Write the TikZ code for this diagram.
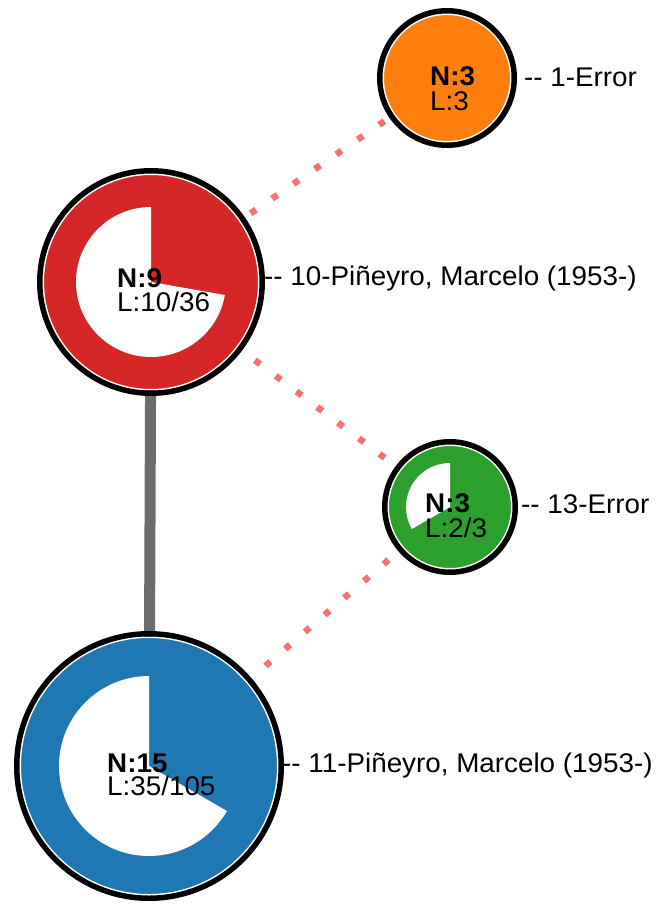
\documentclass[tikz,border=0pt]{standalone}
\usepackage{fontspec}
\setmainfont{Liberation Sans}[FakeStretch=1.03]
\usetikzlibrary{backgrounds}
\definecolor{cOrange}{HTML}{FF7F0E}
\definecolor{cRed}{HTML}{D62728}
\definecolor{cGreen}{HTML}{2CA02C}
\definecolor{cBlue}{HTML}{1F77B4}
\definecolor{cDot}{RGB}{246,114,114}
\definecolor{cGray}{RGB}{108,108,108}
\begin{document}
\begin{tikzpicture}[x=1pt,y=1pt,
  bubble/.style={circle, inner sep=0pt, outer sep=0pt, draw=white, line width=1.5pt},
  blackring/.style={draw=black, line width=5.5pt},
  hole/.style={fill=white},
  txt/.style={inner sep=0pt, anchor=base west, font=\fontsize{27}{31}\selectfont},
  btxt/.style={txt, font=\fontsize{27}{31}\selectfont\bfseries},
  dotlink/.style={draw=cDot, line width=6.5pt, dash pattern=on 6.5pt off 19.5pt},
  graylink/.style={draw=cGray, line width=11pt}]
\useasboundingbox (0,0) rectangle (663,-913);

% nodes
\node[bubble, fill=cOrange, minimum size=127.5pt] (n1) at (447,-78) {};
\draw[blackring] (n1.center) circle[radius=67.25];

\node[bubble, fill=cRed, minimum size=215.5pt] (n10) at (151,-282) {};
\draw[blackring] (n10.center) circle[radius=111.25];
\fill[hole] (n10.center) -- ++(90:75) arc[start angle=90, end angle=350, radius=75] -- cycle;

\node[bubble, fill=cGreen, minimum size=123.5pt] (n13) at (450,-507) {};
\draw[blackring] (n13.center) circle[radius=65.25];
\fill[hole] (n13.center) -- ++(90:44) arc[start angle=90, end angle=210, radius=44] -- cycle;

\node[bubble, fill=cBlue, minimum size=257.5pt] (n11) at (149,-766) {};
\draw[blackring] (n11.center) circle[radius=132.25];
\fill[hole] (n11.center) -- ++(90:90) arc[start angle=90, end angle=330, radius=90] -- cycle;

% inner texts
\node[btxt] (n1N) at (430,-85) {N:3};
\node[txt] (n1L) at (430,-110) {L:3};
\node[btxt] (n10N) at (117,-287) {N:9};
\node[txt] (n10L) at (117,-311) {L:10/36};
\node[btxt] (n13N) at (425,-512) {N:3};
\node[txt] (n13L) at (425,-537) {L:2/3};
\node[btxt] (n11N) at (107,-772) {N:15};
\node[txt] (n11L) at (107,-795) {L:35/105};

% side labels
\node[txt] (l1) at (524,-86) {-{}- 1-Error};
\node[txt] (l10) at (264,-285) {-{}- 10-Piñeyro, Marcelo (1953-)};
\node[txt] (l13) at (521,-513) {-{}- 13-Error};
\node[txt] (l11) at (282,-772) {-{}- 11-Piñeyro, Marcelo (1953-)};

% connectors
\begin{scope}[on background layer]
\fill[white] (0,0) rectangle (663,-913);
\draw[graylink] (n10.center) -- (n11.center);
\draw[dotlink, dash phase=9] (n10.center) -- (n1.center);
\draw[dotlink, dash phase=0] (n10.center) -- (n13.center);
\draw[dotlink, dash phase=23] (n13.center) -- (n11.center);
\end{scope}
\end{tikzpicture}
\end{document}
